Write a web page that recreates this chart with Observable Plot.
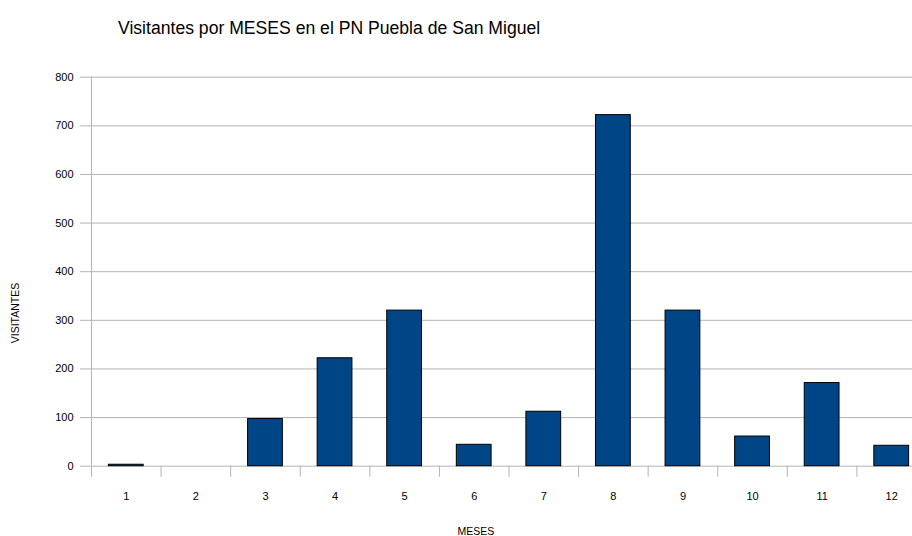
<!DOCTYPE html>
<html>
<head>
<meta charset="utf-8">
<script src="https://cdn.jsdelivr.net/npm/d3@7"></script>
<script src="https://cdn.jsdelivr.net/npm/@observablehq/plot@0.6"></script>
<style>
  html, body { margin: 0; padding: 0; background: #fff; overflow: hidden; }
  #wrap { position: relative; width: 912px; height: 536px; overflow: hidden; font-family: "Liberation Sans", Arial, sans-serif; }
  #title { height: 48px; line-height: 56px; padding-left: 118px; font-size: 17.6px; color: #000; white-space: nowrap; }
  #ylab { position: absolute; left: 15px; top: 313px; transform: translate(-50%, -50%) rotate(-90deg); font-size: 10.5px; white-space: nowrap; }
  #xlab { position: absolute; left: 476px; top: 531px; transform: translate(-50%, -50%); font-size: 10.5px; white-space: nowrap; }
</style>
</head>
<body>
<div id="wrap">
  <div id="title">Visitantes por MESES en el PN Puebla de San Miguel</div>
  <div id="chart"></div>
  <div id="ylab">VISITANTES</div>
  <div id="xlab">MESES</div>
</div>
<script>
const months = [1, 2, 3, 4, 5, 6, 7, 8, 9, 10, 11, 12];
const visitors = [3, 0, 97, 222, 320, 44, 112, 722, 320, 61, 171, 42];
const yTicks = [0, 100, 200, 300, 400, 500, 600, 700, 800];

const data = months.map((m, i) => ({month: m, value: visitors[i]}));
const boundaries = months.map(m => m - 0.5);
const grid = "#b3b3b3";

const chart = Plot.plot({
  width: 926,
  height: 488,
  marginLeft: 91,
  marginRight: 0,
  marginTop: 28.7,
  marginBottom: 70.3,
  style: {fontFamily: "'Liberation Sans', Arial, sans-serif", fontSize: "11px", maxWidth: "none", color: "#000", background: "#fff"},
  x: {type: "linear", domain: [0.5, 12.5]},
  y: {domain: [0, 800]},
  marks: [
    Plot.gridY(yTicks, {stroke: grid, strokeOpacity: 1}),
    Plot.axisY(yTicks, {tickSize: 11, tickPadding: 7, stroke: grid, fill: "#000", label: null}),
    Plot.ruleX([0.5], {stroke: grid}),
    Plot.axisX(boundaries, {tickSize: 11, stroke: grid, tickFormat: () => "", label: null}),
    Plot.axisX(months, {tickSize: 0, tickPadding: 26, fill: "#000", label: null}),
    Plot.rectY(data, {x1: d => d.month - 0.25, x2: d => d.month + 0.25, y: "value", fill: "#004586", stroke: "#000", strokeWidth: 1})
  ]
});
document.getElementById("chart").appendChild(chart);
</script>
</body>
</html>
